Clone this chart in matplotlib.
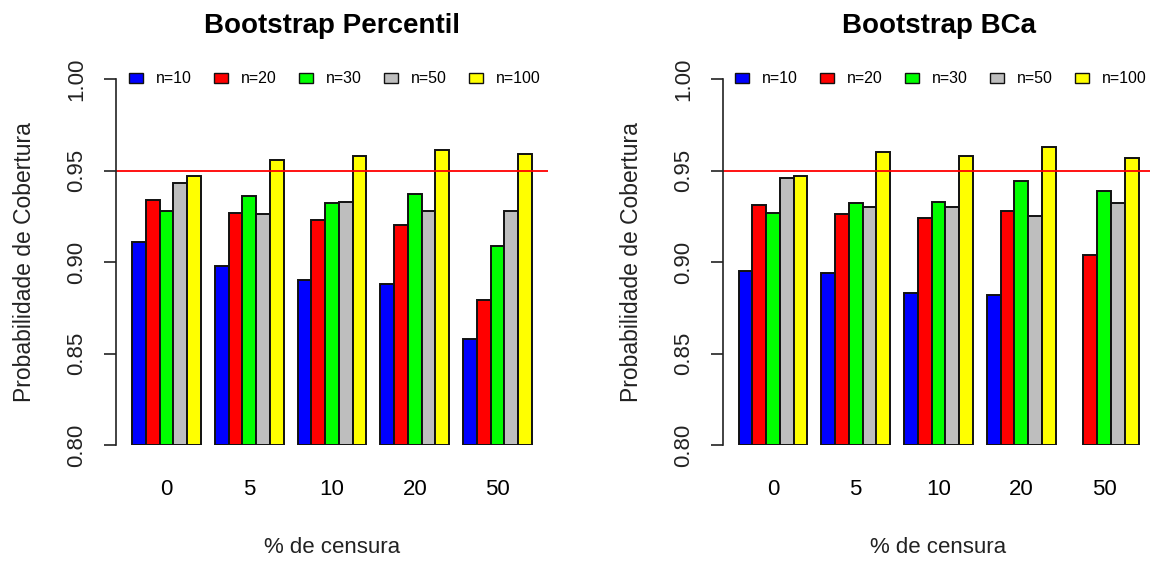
import numpy as np
import matplotlib
matplotlib.use('Agg')
import matplotlib.pyplot as plt
from matplotlib.patches import Patch

plt.rcParams['font.family'] = ['Liberation Sans', 'DejaVu Sans']

censura = ['0', '5', '10', '20', '50']
amostras = ['n=10', 'n=20', 'n=30', 'n=50', 'n=100']
cores = ['#0000FF', '#FF0000', '#00FF00', '#BEBEBE', '#FFFF00']

# coverage probabilities, one list per sample size
pct_n10 = [0.911, 0.898, 0.890, 0.888, 0.858]
pct_n20 = [0.934, 0.927, 0.923, 0.920, 0.879]
pct_n30 = [0.928, 0.936, 0.932, 0.937, 0.909]
pct_n50 = [0.943, 0.926, 0.933, 0.928, 0.928]
pct_n100 = [0.947, 0.956, 0.958, 0.961, 0.959]

bca_n10 = [0.895, 0.894, 0.883, 0.882, np.nan]
bca_n20 = [0.931, 0.926, 0.924, 0.928, 0.904]
bca_n30 = [0.927, 0.932, 0.933, 0.944, 0.939]
bca_n50 = [0.946, 0.930, 0.930, 0.925, 0.932]
bca_n100 = [0.947, 0.960, 0.958, 0.963, 0.957]

nominal = 0.95
base = 0.80


def painel(ax, titulo, series):
    '''grouped bars like R barplot(beside=TRUE)'''
    grupos = np.arange(len(censura))
    for j, (vals, cor) in enumerate(zip(series, cores)):
        x = 1 + grupos * 6 + j
        alt = np.array(vals) - base
        ax.bar(x, alt, width=1, bottom=base, align='edge', color=cor,
               edgecolor='#111111', linewidth=1.4)
    ax.axhline(nominal, color='red', linewidth=1.3)

    ax.set_xlim(-0.16, 31.16)
    ax.set_ylim(0.80, 1.00)
    ax.set_xticks(1 + grupos * 6 + 2.5)
    ax.set_xticklabels(censura, fontsize=16)
    ax.tick_params(axis='x', length=0, pad=24.5)

    yt = [0.80, 0.85, 0.90, 0.95, 1.00]
    ax.set_yticks(yt)
    ax.set_yticklabels(['%.2f' % v for v in yt], rotation=90, va='center',
                       fontsize=16, color='#222222')
    ax.tick_params(axis='y', length=8.6, width=1.2, pad=12, color='#222222')

    for s in ['top', 'right', 'bottom']:
        ax.spines[s].set_visible(False)
    ax.spines['left'].set_linewidth(1.2)
    ax.spines['left'].set_color('#222222')
    ax.spines['left'].set_bounds(0.80, 1.00)

    ax.set_title(titulo, fontsize=20, fontweight='bold', pad=33)
    ax.set_xlabel('% de censura', fontsize=16, color='#222222')
    ax.xaxis.set_label_coords(0.5, -0.252)
    ax.set_ylabel('Probabilidade de Cobertura', fontsize=16.5,
                  color='#222222')
    ax.yaxis.set_label_coords(-0.185, 0.5)

    alças = [Patch(facecolor=c, edgecolor='#111111', linewidth=1.0)
             for c in cores]
    ax.legend(alças, amostras, ncol=5, loc='center left',
              bbox_to_anchor=(0.78, 1.0), bbox_transform=ax.transData,
              frameon=False, fontsize=11.5, handlelength=0.875,
              handleheight=0.625, handletextpad=0.8, columnspacing=1.4,
              borderpad=0, borderaxespad=0)


fig = plt.figure(figsize=(11.5, 5.61), dpi=100)
ax1 = fig.add_axes([116 / 1150, 1 - 445 / 561, 432 / 1150, 366 / 561])
ax2 = fig.add_axes([722.5 / 1150, 1 - 445 / 561, 432 / 1150, 366 / 561])

painel(ax1, 'Bootstrap Percentil',
       [pct_n10, pct_n20, pct_n30, pct_n50, pct_n100])
painel(ax2, 'Bootstrap BCa',
       [bca_n10, bca_n20, bca_n30, bca_n50, bca_n100])

fig.savefig('out.png', dpi=100)
